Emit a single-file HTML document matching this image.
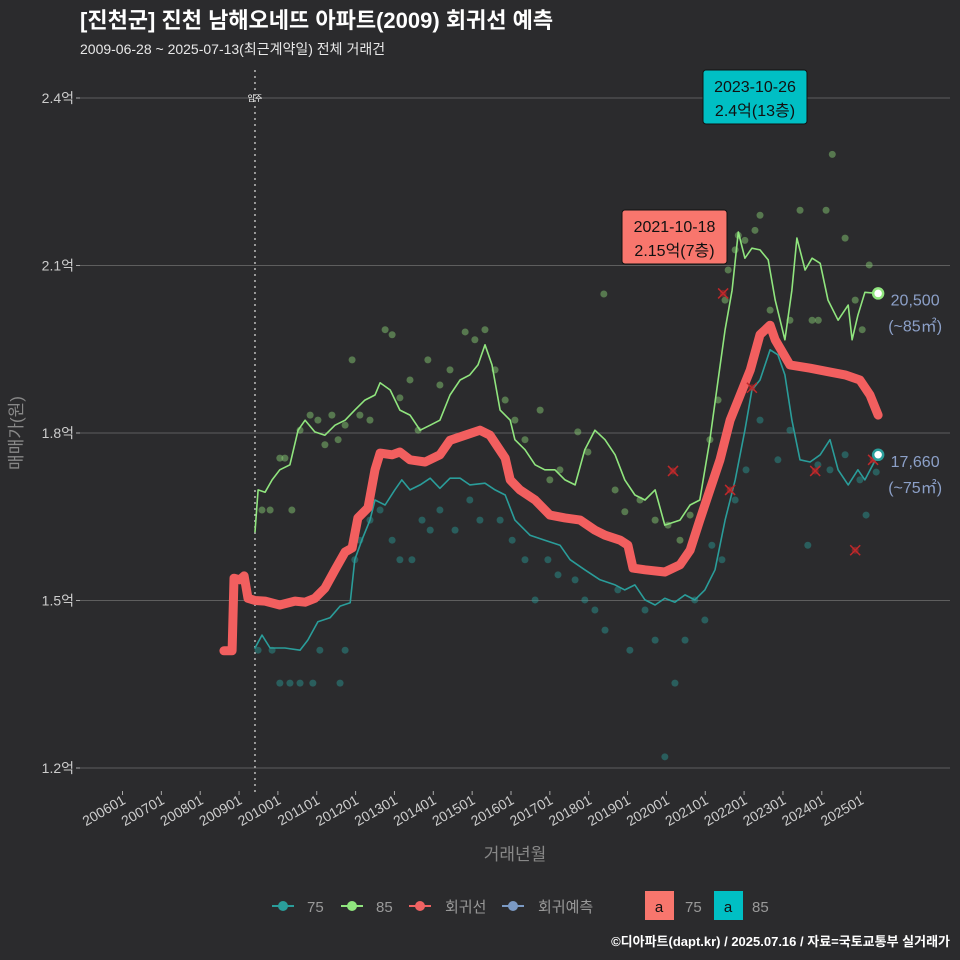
<!DOCTYPE html>
<html><head><meta charset="utf-8">
<style>
html,body{margin:0;padding:0;background:#2b2b2d;}
svg{display:block;font-family:"Liberation Sans","Noto Sans CJK KR",sans-serif;}
</style></head>
<body>
<svg id="chart" width="960" height="960" viewBox="0 0 960 960" xmlns="http://www.w3.org/2000/svg">
<rect width="960" height="960" fill="#2b2b2d"/>
<text x="80" y="28" fill="#ffffff" font-size="22" font-weight="bold">[진천군] 진천 남해오네뜨 아파트(2009) 회귀선 예측</text>
<text x="80" y="54" fill="#e8e8e8" font-size="14">2009-06-28 ~ 2025-07-13(최근계약일) 전체 거래건</text>
<g id="grid"></g>
<g id="marks"></g>
<text transform="translate(22,433) rotate(-90)" text-anchor="middle" fill="#888" font-size="17">매매가(원)</text>
<text x="515" y="860" text-anchor="middle" fill="#888" font-size="17">거래년월</text>
<g font-size="15" fill="#999">
 <g><line x1="272" y1="906" x2="294" y2="906" stroke="#2a9d9a" stroke-width="2"/><circle cx="283" cy="906" r="5" fill="#2a9d9a"/><text x="307" y="912">75</text></g>
 <g><line x1="341" y1="906" x2="363" y2="906" stroke="#90e57e" stroke-width="2"/><circle cx="352" cy="906" r="5" fill="#90e57e"/><text x="376" y="912">85</text></g>
 <g><line x1="409" y1="906" x2="431" y2="906" stroke="#f06262" stroke-width="2"/><circle cx="420" cy="906" r="5" fill="#f06262"/><text x="445" y="912">회귀선</text></g>
 <g><line x1="502" y1="906" x2="524" y2="906" stroke="#7b9ac4" stroke-width="2"/><circle cx="513" cy="906" r="5" fill="#7b9ac4"/><text x="538" y="912">회귀예측</text></g>
 <g><rect x="645" y="891" width="29" height="29" fill="#f8766d"/><text x="659" y="912" text-anchor="middle" fill="#111">a</text><text x="685" y="912">75</text></g>
 <g><rect x="714" y="891" width="29" height="29" fill="#00bfc4"/><text x="728" y="912" text-anchor="middle" fill="#111">a</text><text x="752" y="912">85</text></g>
</g>
<text x="950" y="946" text-anchor="end" fill="#fff" font-size="13" font-weight="bold">©디아파트(dapt.kr) / 2025.07.16 / 자료=국토교통부 실거래가</text>
</svg>
<script>
const yTicks=[1.2,1.5,1.8,2.1,2.4];
const yTickLabels=["1.2억","1.5억","1.8억","2.1억","2.4억"];
const xTicks=[2006,2007,2008,2009,2010,2011,2012,2013,2014,2015,2016,2017,2018,2019,2020,2021,2022,2023,2024,2025];
const xTickLabels=["200601","200701","200801","200901","201001","201101","201201","201301","201401","201501","201601","201701","201801","201901","202001","202101","202201","202301","202401","202501"];
const moveInDate=2009.41;
const regX=[2008.61,2008.82,2008.87,2009.02,2009.13,2009.23,2009.41,2009.67,2010.05,2010.44,2010.70,2010.95,2011.21,2011.47,2011.73,2011.91,2012.06,2012.32,2012.50,2012.63,2012.94,2013.14,2013.40,2013.79,2014.17,2014.43,2014.82,2015.20,2015.46,2015.85,2015.98,2016.23,2016.62,2017.00,2017.39,2017.78,2018.16,2018.42,2018.81,2019.01,2019.14,2019.45,2019.96,2020.35,2020.61,2020.86,2021.12,2021.38,2021.64,2021.90,2022.16,2022.41,2022.67,2022.80,2023.18,2023.70,2024.21,2024.60,2024.98,2025.24,2025.45];
const regY=[1.41,1.41,1.54,1.537,1.544,1.504,1.50,1.499,1.492,1.499,1.497,1.504,1.522,1.555,1.587,1.594,1.648,1.666,1.734,1.764,1.761,1.766,1.752,1.748,1.761,1.787,1.796,1.805,1.796,1.755,1.716,1.698,1.680,1.653,1.648,1.644,1.626,1.617,1.608,1.599,1.558,1.555,1.551,1.564,1.590,1.644,1.698,1.752,1.823,1.868,1.913,1.976,1.993,1.967,1.922,1.916,1.909,1.904,1.895,1.868,1.832];
const g85X=[2009.41,2009.49,2009.67,2009.85,2010.05,2010.31,2010.52,2010.70,2010.95,2011.21,2011.47,2011.73,2011.98,2012.24,2012.50,2012.63,2012.89,2013.14,2013.40,2013.66,2013.92,2014.17,2014.43,2014.69,2014.94,2015.15,2015.33,2015.51,2015.72,2015.98,2016.10,2016.36,2016.62,2016.87,2017.13,2017.39,2017.65,2017.90,2018.16,2018.42,2018.68,2018.93,2019.19,2019.45,2019.71,2019.96,2020.35,2020.61,2020.86,2021.12,2021.33,2021.51,2021.69,2021.85,2022.02,2022.20,2022.41,2022.62,2022.80,2023.05,2023.23,2023.36,2023.57,2023.75,2023.96,2024.16,2024.42,2024.68,2024.78,2024.93,2025.11,2025.45];
const g85Y=[1.623,1.698,1.694,1.716,1.734,1.743,1.805,1.823,1.802,1.796,1.814,1.823,1.841,1.859,1.868,1.890,1.877,1.841,1.832,1.805,1.814,1.823,1.868,1.895,1.904,1.922,1.958,1.922,1.841,1.823,1.788,1.770,1.743,1.734,1.734,1.716,1.707,1.770,1.805,1.788,1.761,1.716,1.689,1.680,1.698,1.635,1.644,1.671,1.680,1.788,1.895,1.985,2.056,2.160,2.113,2.131,2.128,2.110,2.038,1.967,2.056,2.149,2.092,2.113,2.104,2.038,2.002,2.029,1.967,2.011,2.052,2.050];
const t75X=[2009.41,2009.59,2009.80,2010.18,2010.57,2010.77,2011.03,2011.34,2011.60,2011.86,2011.98,2012.16,2012.37,2012.50,2012.76,2013.01,2013.19,2013.40,2013.66,2013.92,2014.17,2014.43,2014.69,2014.94,2015.33,2015.59,2015.85,2016.10,2016.49,2016.87,2017.26,2017.52,2017.90,2018.29,2018.68,2018.93,2019.19,2019.45,2019.71,2019.96,2020.22,2020.48,2020.73,2020.99,2021.25,2021.51,2021.77,2022.02,2022.20,2022.41,2022.67,2022.87,2023.05,2023.23,2023.44,2023.70,2023.96,2024.21,2024.42,2024.68,2024.93,2025.11,2025.45];
const t75Y=[1.415,1.438,1.415,1.415,1.411,1.429,1.462,1.469,1.490,1.496,1.573,1.608,1.644,1.680,1.671,1.698,1.716,1.698,1.707,1.719,1.701,1.719,1.719,1.707,1.710,1.698,1.689,1.644,1.617,1.608,1.599,1.573,1.555,1.537,1.528,1.519,1.528,1.501,1.492,1.504,1.497,1.510,1.501,1.519,1.555,1.644,1.716,1.805,1.877,1.895,1.949,1.940,1.904,1.823,1.752,1.748,1.761,1.788,1.734,1.707,1.734,1.716,1.761];
const dot85X=[2009.59,2009.80,2010.05,2010.18,2010.36,2010.57,2010.83,2011.03,2011.21,2011.39,2011.55,2011.73,2011.91,2012.11,2012.37,2012.76,2012.94,2013.14,2013.40,2013.61,2013.86,2014.17,2014.43,2014.82,2015.07,2015.33,2015.59,2015.85,2016.10,2016.36,2016.75,2017.00,2017.26,2017.72,2017.98,2018.39,2018.68,2018.93,2019.32,2019.71,2020.04,2020.35,2020.61,2020.86,2021.12,2021.33,2021.51,2021.59,2021.77,2021.85,2022.02,2022.28,2022.41,2022.67,2022.98,2023.18,2023.44,2023.75,2023.91,2024.11,2024.27,2024.60,2024.86,2025.04,2025.22];
const dot85Y=[1.662,1.662,1.755,1.755,1.662,1.805,1.832,1.823,1.779,1.832,1.788,1.814,1.931,1.832,1.823,1.985,1.976,1.863,1.895,1.805,1.931,1.886,1.913,1.981,1.967,1.985,1.913,1.859,1.823,1.788,1.841,1.716,1.734,1.802,1.766,2.049,1.698,1.659,1.680,1.644,1.635,1.608,1.653,1.644,1.788,1.859,2.038,2.092,2.128,2.154,2.145,2.163,2.190,2.020,2.400,2.002,2.199,2.002,2.002,2.199,2.299,2.149,2.038,1.985,2.101];
const dot75X=[2009.49,2009.85,2010.05,2010.31,2010.57,2010.90,2011.08,2011.60,2011.73,2011.98,2012.11,2012.37,2012.63,2012.94,2013.14,2013.45,2013.71,2013.92,2014.17,2014.56,2014.94,2015.20,2015.72,2016.03,2016.36,2016.62,2016.95,2017.21,2017.65,2017.90,2018.16,2018.42,2018.75,2019.06,2019.45,2019.71,2019.96,2020.22,2020.48,2020.73,2020.99,2021.17,2021.43,2021.77,2022.05,2022.41,2022.87,2023.18,2023.64,2023.90,2024.21,2024.60,2024.98,2025.14,2025.40];
const dot75Y=[1.411,1.411,1.352,1.352,1.352,1.352,1.411,1.352,1.411,1.573,1.608,1.644,1.662,1.608,1.573,1.573,1.644,1.626,1.662,1.626,1.680,1.644,1.644,1.608,1.573,1.501,1.573,1.546,1.537,1.501,1.483,1.447,1.519,1.411,1.483,1.429,1.220,1.352,1.429,1.501,1.465,1.599,1.573,1.680,1.734,1.823,1.752,1.805,1.599,1.743,1.734,1.761,1.716,1.653,1.730];
const crossX=[2020.17,2021.46,2021.64,2022.20,2023.83,2024.86,2025.32];
const crossY=[1.732,2.050,1.698,1.881,1.732,1.590,1.752];

const NS="http://www.w3.org/2000/svg";
const X0=80,X1=950;
function sx(t){return 122.5+(t-2006)*38.85;}
function sy(v){return 768-(v-1.2)/0.3*167.5;}
function mk(tag,attrs,parent){const e=document.createElementNS(NS,tag);for(const k in attrs)e.setAttribute(k,attrs[k]);parent.appendChild(e);return e;}
const grid=document.getElementById('grid');
const marks=document.getElementById('marks');
yTicks.forEach((v,i)=>{
  const l=mk('line',{x1:X0,x2:X1,y1:sy(v),y2:sy(v),stroke:'#5e5e5e','stroke-width':1},grid);
  
  
  const tk=mk('line',{x1:X0-4,x2:X0,y1:sy(v),y2:sy(v),stroke:'#aaa'},grid);
  
  
  const t=mk('text',{x:X0-6,y:sy(v)+5,'text-anchor':'end',fill:'#ccc','font-size':14},grid);
  t.textContent=yTickLabels[i];
  
  
});
xTicks.forEach((v,i)=>{
  const x=sx(v);
  const tk=mk('line',{x1:x,x2:x,y1:791,y2:795,stroke:'#aaa'},grid);
  
  
  const t=mk('text',{transform:`translate(${x+4},803) rotate(-30)`,'text-anchor':'end',fill:'#ccc','font-size':14},grid);
  t.textContent=xTickLabels[i];
  
  
});
const mv=mk('line',{x1:sx(moveInDate),x2:sx(moveInDate),y1:70,y2:792,stroke:'#bbb','stroke-dasharray':'2,4','stroke-width':1.5},grid);


const mvt=mk('text',{x:sx(moveInDate),y:101,'text-anchor':'middle',fill:'#fff','font-size':8},grid);
mvt.textContent='입주';



function dots(xs,ys,color,name){xs.forEach((x,i)=>{const c=mk('circle',{cx:sx(x),cy:sy(ys[i]),r:3.5,fill:color,'fill-opacity':0.45},marks);
  
  });}
dots(dot75X,dot75Y,'#2a9d9a','trade-dot-75');
dots(dot85X,dot85Y,'#8fd67a','trade-dot-85');
function line(xs,ys,color,w,name){const n=Math.min(xs.length,ys.length);const d=xs.slice(0,n).map((x,i)=>(i?'L':'M')+sx(x).toFixed(1)+','+sy(ys[i]).toFixed(1)).join('');
  const p=mk('path',{d:d,fill:'none',stroke:color,'stroke-width':w,'stroke-linejoin':'round','stroke-linecap':'round'},marks);
  
  return p;}
line(t75X,t75Y,'#2a9d9a',1.6,'line-75');
line(g85X,g85Y,'#90e57e',1.6,'line-85');
line(regX,regY,'#f25f5f',9,'regression-line');
crossX.forEach((x,i)=>{const cx=sx(x),cy=sy(crossY[i]);
  const p=mk('path',{d:`M${cx-5},${cy-5}L${cx+5},${cy+5}M${cx-5},${cy+5}L${cx+5},${cy-5}`,stroke:'#c0282a','stroke-width':1.5},marks);
  
  
  const c=mk('circle',{cx:cx,cy:cy,r:3.5,fill:'#c0282a','fill-opacity':0.5},marks);
  
  });
const e85=mk('circle',{cx:sx(g85X[g85X.length-1]),cy:sy(g85Y[g85Y.length-1]),r:5,fill:'#fff',stroke:'#90e57e','stroke-width':2.5},marks);


const e75=mk('circle',{cx:sx(t75X[t75X.length-1]),cy:sy(t75Y[t75Y.length-1]),r:5,fill:'#fff',stroke:'#2a9d9a','stroke-width':2.5},marks);


function endLabel(v,a,b,name){const x=sx(2025.45)+37,y=sy(v);
  const t1=mk('text',{x:x,y:y+1,'text-anchor':'middle',fill:'#8ca0c8','font-size':16},marks);t1.textContent=a;
  
  
  const t2=mk('text',{x:x,y:y+27,'text-anchor':'middle',fill:'#8ca0c8','font-size':16},marks);t2.textContent=b;
  
  }
endLabel(g85Y[g85Y.length-1]-0.02,'20,500','(~85㎡)','end-label-85');
endLabel(t75Y[t75Y.length-1]-0.02,'17,660','(~75㎡)','end-label-75');
function callout(x0,y0,w,fill,l1,l2,name){const g=mk('g',{},marks);
  
  
  mk('rect',{x:x0,y:y0,width:w,height:54,rx:3,fill:fill,stroke:'#111','stroke-width':1},g);
  const a=mk('text',{x:x0+w/2,y:y0+22,'text-anchor':'middle',fill:'#111','font-size':16},g);a.textContent=l1;
  const b=mk('text',{x:x0+w/2,y:y0+46,'text-anchor':'middle',fill:'#111','font-size':16},g);b.textContent=l2;}
callout(703,70,104,'#00bfc4','2023-10-26','2.4억(13층)','max-callout-85');
callout(622,210,105,'#f8766d','2021-10-18','2.15억(7층)','max-callout-75');
</script>
</body></html>
